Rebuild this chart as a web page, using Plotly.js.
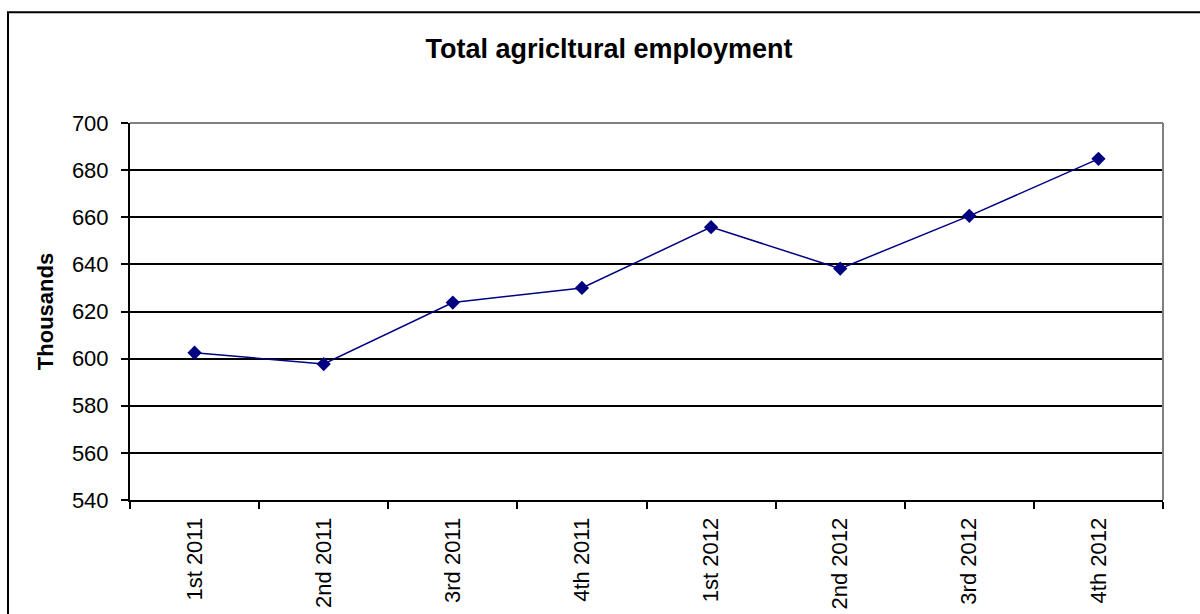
<!DOCTYPE html>
<html>
<head>
<meta charset="utf-8">
<script src="https://cdn.plot.ly/plotly-3.0.1.min.js"></script>
<style>html,body{margin:0;padding:0;background:#fff;}#chart{width:1200px;height:614px;}</style>
</head>
<body>
<div id="chart"></div>
<script>
var categories = ["1st 2011", "2nd 2011", "3rd 2011", "4th 2011", "1st 2012", "2nd 2012", "3rd 2012", "4th 2012"];
var employment = [602.5, 597.7, 623.8, 630.0, 655.8, 638.2, 660.6, 684.8];
var chartTitle = "Total agricltural employment";
var yTitle = "Thousands";

var trace = {
  type: "scatter",
  mode: "lines+markers",
  x: categories,
  y: employment,
  line: {color: "#000080", width: 1.5},
  marker: {symbol: "diamond", size: 11, color: "#000080"},
  hoverinfo: "x+y"
};

var layout = {
  width: 1200,
  height: 614,
  margin: {l: 130, r: 37, t: 123, b: 114},
  paper_bgcolor: "#ffffff",
  plot_bgcolor: "#ffffff",
  showlegend: false,
  font: {family: "Liberation Sans, Arial, sans-serif", color: "#000000"},
  title: {
    text: "<b>" + chartTitle + "</b>",
    font: {family: "Liberation Sans, Arial, sans-serif", size: 27, color: "#000"},
    xref: "container", x: 0.5075, xanchor: "center",
    yref: "container", y: 0.921, yanchor: "middle"
  },
  xaxis: {
    type: "category",
    range: [-0.5, 7.5],
    tickson: "boundaries",
    ticks: "outside",
    ticklen: 7,
    tickwidth: 2,
    tickcolor: "#000",
    tickangle: -90,
    tickfont: {size: 22, color: "#000"},
    ticklabelstandoff: 7,
    showline: true,
    linecolor: "#000",
    linewidth: 2,
    showgrid: false,
    zeroline: false
  },
  yaxis: {
    range: [540, 700],
    dtick: 20,
    tick0: 540,
    ticks: "outside",
    ticklen: 7,
    tickwidth: 2,
    tickcolor: "#000",
    tickfont: {size: 22, color: "#000"},
    ticklabelstandoff: 8,
    showline: true,
    linecolor: "#000",
    linewidth: 2,
    showgrid: true,
    gridcolor: "#000",
    gridwidth: 1.5,
    zeroline: false,
    title: {text: "<b>" + yTitle + "</b>", font: {size: 22, color: "#000"}, standoff: 12}
  },
  shapes: [
    {type: "line", xref: "paper", yref: "paper", x0: 0, x1: 1, y0: 1, y1: 1, line: {color: "#808080", width: 2}, layer: "above"},
    {type: "line", xref: "paper", yref: "paper", x0: 1, x1: 1, y0: 0, y1: 1, line: {color: "#808080", width: 2}, layer: "above"},
    {type: "rect", xref: "paper", yref: "paper", x0: -0.1181, x1: 1.2, y0: -0.5, y1: 1.2935, line: {color: "#000", width: 2}, fillcolor: "rgba(0,0,0,0)", layer: "below"}
  ]
};

Plotly.newPlot("chart", [trace], layout, {displayModeBar: false, responsive: false});
</script>
</body>
</html>
